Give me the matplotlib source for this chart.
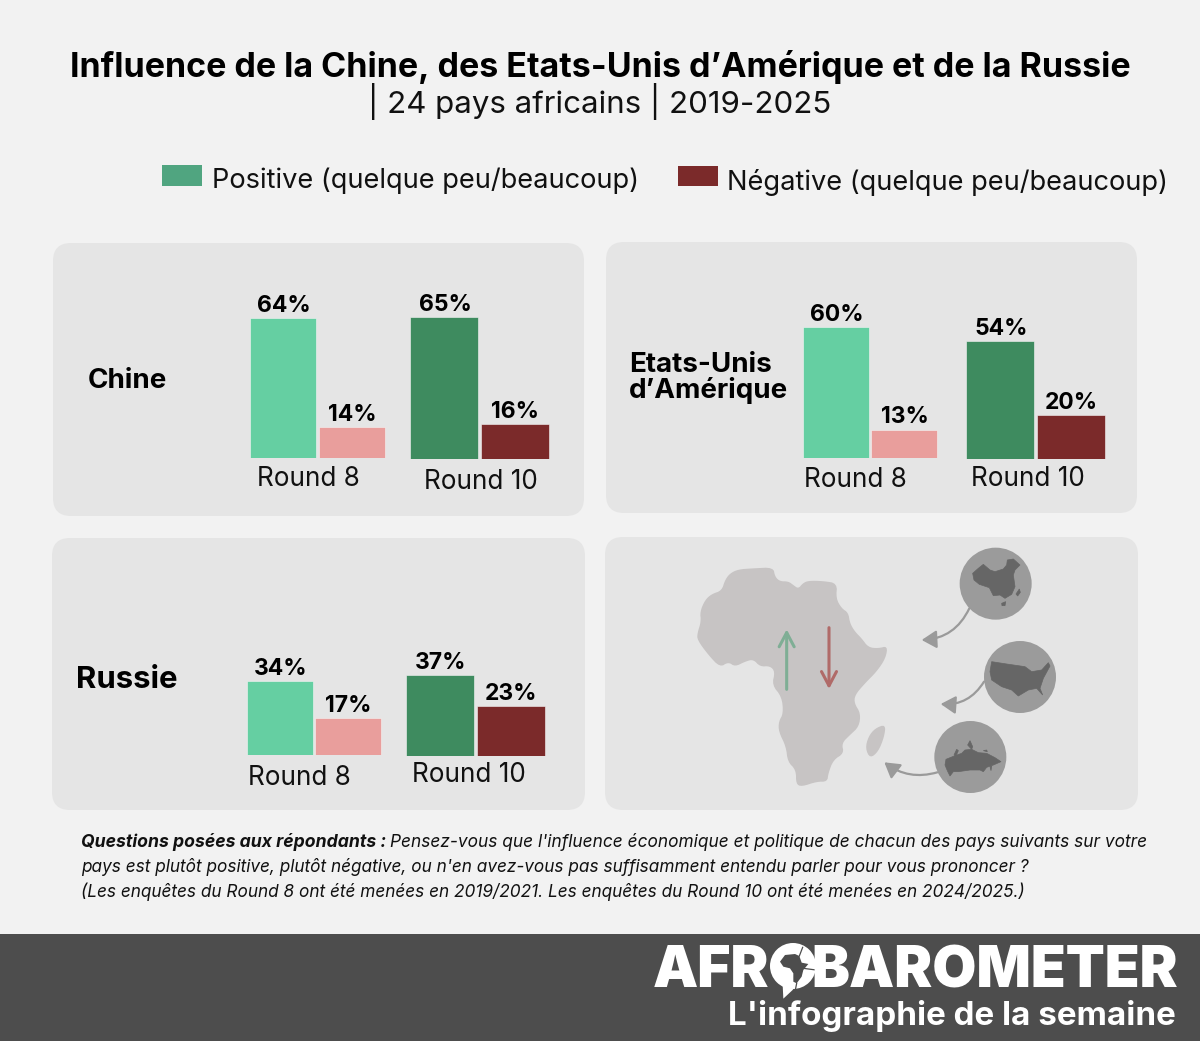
import matplotlib
matplotlib.use('Agg')
import matplotlib.pyplot as plt
from matplotlib.patches import FancyBboxPatch, FancyArrowPatch, Polygon, Circle, Rectangle

# Values (%)
rounds = ['Round 8', 'Round 10']
chine_pos = [64, 65]
chine_neg = [14, 16]
usa_pos = [60, 54]
usa_neg = [13, 20]
russie_pos = [34, 37]
russie_neg = [17, 23]

W, H = 1200, 1041
FONT = 'Inter'
plt.rcParams['font.family'] = [FONT, 'DejaVu Sans']

BG = '#f2f2f2'
PANEL = '#e5e5e5'
LIGHT_GREEN = '#65cfa2'
LIGHT_RED = '#e99e9c'
DARK_GREEN = '#3e8b5f'
DARK_RED = '#7b2a2a'
FOOTER = '#4d4d4d'
PX_PER_PCT = 2.185

fig = plt.figure(figsize=(W / 100, H / 100), dpi=100, facecolor=BG)
bg = fig.add_axes([0, 0, 1, 1])
bg.set_xlim(0, W)
bg.set_ylim(H, 0)
bg.axis('off')


def panel(x0, y0, x1, y1):
    bg.add_patch(FancyBboxPatch((x0 + 18, y0 + 18), x1 - x0 - 36, y1 - y0 - 36,
                                boxstyle='round,pad=18,rounding_size=18',
                                fc=PANEL, ec='none'))


def bar_group(x0, x1, base, pos, neg, c_pos, c_neg):
    # one small axes per round, sharing the same px-per-percent scale
    h = 100 * PX_PER_PCT
    ax = fig.add_axes([(x0 - 1) / W, 1 - base / H, (x1 - x0 + 2) / W, h / H])
    ax.patch.set_alpha(0)
    ax.axis('off')
    ax.set_xlim(-0.5, 1.5)
    ax.set_ylim(0, 100)
    bars = ax.bar([0, 1], [pos, neg], width=0.97, color=[c_pos, c_neg],
                  edgecolor='#f4f4f4', linewidth=0.4)
    for b, v in zip(bars, [pos, neg]):
        ax.annotate(f'{v}%', (b.get_x() + b.get_width() / 2, v), xytext=(0.5, 0.8),
                    textcoords='offset points', ha='center', va='bottom',
                    fontsize=16.5, fontweight='bold', color='black')


for p in [(53, 243, 584, 516), (606, 242, 1137, 513), (52, 538, 585, 810), (605, 537, 1138, 810)]:
    panel(*p)

# title
bg.text(600, 67, 'Influence de la Chine, des Etats-Unis d’Amérique et de la Russie',
        ha='center', va='center', fontsize=24.5, fontweight='bold', color='black')
bg.text(600, 101, '| 24 pays africains | 2019-2025', ha='center', va='center',
        fontsize=22.5, color='#111111')

# legend
bg.add_patch(Rectangle((162, 165), 40, 21, fc='#50a580', ec='none'))
bg.text(212, 181, 'Positive (quelque peu/beaucoup)', va='center', fontsize=19.6, color='#111111')
bg.add_patch(Rectangle((678, 166), 40, 20, fc=DARK_RED, ec='none'))
bg.text(727, 182, 'Négative (quelque peu/beaucoup)', va='center', fontsize=19.6, color='#111111')

# bars
bar_group(250, 385, 458, chine_pos[0], chine_neg[0], LIGHT_GREEN, LIGHT_RED)
bar_group(410, 549, 459, chine_pos[1], chine_neg[1], DARK_GREEN, DARK_RED)
bar_group(803, 937, 458, usa_pos[0], usa_neg[0], LIGHT_GREEN, LIGHT_RED)
bar_group(966, 1105, 459, usa_pos[1], usa_neg[1], DARK_GREEN, DARK_RED)
bar_group(247, 381, 755, russie_pos[0], russie_neg[0], LIGHT_GREEN, LIGHT_RED)
bar_group(406, 545, 756, russie_pos[1], russie_neg[1], DARK_GREEN, DARK_RED)

# round labels
for x, y, s in [(308, 479, rounds[0]), (481, 482, rounds[1]), (855, 480, rounds[0]),
                (1028, 479, rounds[1]), (299, 778, rounds[0]), (469, 775, rounds[1])]:
    bg.text(x, y, s, ha='center', va='center', fontsize=18.8, color='#111111')

# country names
bg.text(88, 381, 'Chine', va='center', fontsize=20, fontweight='bold', color='black')
bg.text(629, 365, 'Etats-Unis', va='center', fontsize=20, fontweight='bold', color='black')
bg.text(629, 391, 'd’Amérique', va='center', fontsize=20, fontweight='bold', color='black')
bg.text(76, 680, 'Russie', va='center', fontsize=22.4, fontweight='bold', color='black')


def crop(x0, y0, pts):
    return [(x0 + a / 3, y0 + b / 3) for a, b in pts]


def z(pts):
    return crop(620, 540, pts)


def smooth(pts, n=2):
    # corner cutting, only to round off the traced outlines
    for _ in range(n):
        out = []
        for i, (ax_, ay) in enumerate(pts):
            bx, by = pts[(i + 1) % len(pts)]
            out += [(0.75 * ax_ + 0.25 * bx, 0.75 * ay + 0.25 * by),
                    (0.25 * ax_ + 0.75 * bx, 0.25 * ay + 0.75 * by)]
        pts = out
    return pts


africa = [(232, 280), (243, 245), (240, 215), (255, 180), (275, 162), (305, 152), (315, 120), (330, 100),
          (355, 88), (400, 85), (460, 82), (465, 110), (480, 124), (505, 124), (520, 135), (535, 146),
          (548, 130), (565, 122), (610, 123), (652, 130), (648, 175), (665, 205), (685, 218), (690, 250),
          (705, 275), (725, 295), (745, 322), (775, 325), (803, 318), (797, 355), (770, 395), (735, 430),
          (705, 465), (703, 490), (722, 520), (717, 560), (690, 585), (665, 610), (672, 640), (640, 660),
          (625, 700), (622, 725), (590, 725), (545, 740), (528, 732), (528, 690), (503, 665), (498, 620),
          (476, 575), (476, 545), (490, 520), (485, 470), (456, 435), (465, 395), (450, 378), (420, 380),
          (400, 358), (375, 365), (345, 380), (325, 366), (300, 382), (265, 345), (232, 300)]
madagascar = [(797, 553), (793, 590), (775, 635), (750, 655), (736, 625), (745, 590), (765, 565)]
for shape in [africa, madagascar]:
    bg.add_patch(Polygon(z(smooth(shape)), closed=True, fc='#c7c4c4', ec='none'))

for a, b, col in [((500, 448), (500, 268), '#7fae95'), ((627, 263), (627, 447), '#b06a68')]:
    bg.add_patch(FancyArrowPatch(z([a])[0], z([b])[0], arrowstyle='->,head_length=3.4,head_width=1.8',
                                 color=col, lw=2.2, mutation_scale=3.0, shrinkA=0, shrinkB=0))

for c in [(1127, 131), (1200, 411), (1051, 651)]:
    bg.add_patch(Circle(z([c])[0], 36, fc='#9b9b9b', ec='none'))

china = [(68, 85), (85, 70), (100, 58), (120, 75), (135, 80), (160, 72), (170, 60), (172, 45), (190, 42),
         (210, 60), (195, 75), (190, 90), (195, 125), (185, 148), (165, 160), (150, 150), (130, 152),
         (118, 128), (88, 118), (72, 105)]
china_isl = [(198, 147), (208, 132), (211, 142), (203, 153)]
hainan = [(155, 175), (167, 170), (165, 182), (156, 182)]
for shape in [china, china_isl, hainan]:
    bg.add_patch(Polygon(crop(950, 545, shape), closed=True, fc='#666666', ec='#666666', lw=0.5))

usa_map = [(1115, 365), (1160, 372), (1215, 380), (1235, 395), (1265, 390), (1285, 368), (1290, 378),
           (1270, 415), (1260, 445), (1268, 465), (1250, 445), (1225, 450), (1195, 468), (1175, 450),
           (1145, 440), (1115, 420), (1110, 395)]
bg.add_patch(Polygon(z(usa_map), closed=True, fc='#666666', ec='#666666', lw=0.5))

russia_map = [(48, 118), (75, 107), (95, 100), (105, 90), (125, 88), (145, 98), (170, 100), (195, 113),
              (213, 125), (190, 135), (170, 142), (160, 155), (150, 150), (120, 150), (85, 155), (70, 155),
              (60, 168), (52, 152), (45, 135)]
russia_bits = [[(72, 105), (80, 88), (85, 92), (78, 108)], [(113, 75), (120, 62), (128, 80), (125, 88)],
               [(160, 92), (170, 90), (172, 95)], [(180, 140), (185, 138), (183, 152)]]
for shape in [russia_map] + russia_bits:
    bg.add_patch(Polygon(crop(930, 720, shape), closed=True, fc='#666666', ec='#666666', lw=0.5))

for a, b, rad in [((1048, 205), (905, 300), -0.3), ((1092, 425), (962, 492), -0.3), ((952, 697), (793, 667), -0.25)]:
    bg.add_patch(FancyArrowPatch(z([a])[0], z([b])[0], connectionstyle=f'arc3,rad={rad}',
                                 arrowstyle='-|>,head_length=3,head_width=1.8', color='#9a9a9a',
                                 lw=1.6, mutation_scale=3.0, shrinkA=0, shrinkB=0))

# note
note_kw = dict(va='center', style='italic', color='#111111')
bg.text(81, 842, 'Questions posées aux répondants :', fontweight='bold', fontsize=12.7, **note_kw)
bg.text(390, 842, "Pensez-vous que l'influence économique et politique de chacun des pays suivants sur votre",
        fontsize=12.45, **note_kw)
bg.text(81, 867, "pays est plutôt positive, plutôt négative, ou n'en avez-vous pas suffisamment entendu parler pour vous prononcer ?",
        fontsize=12.4, **note_kw)
bg.text(81, 892, '(Les enquêtes du Round 8 ont été menées en 2019/2021. Les enquêtes du Round 10 ont été menées en 2024/2025.)',
        fontsize=12.4, **note_kw)

# footer
bg.add_patch(Rectangle((0, 934), W, H - 934, fc=FOOTER, ec='none'))
bg.text(769, 987, 'AFR', ha='right', va='baseline', fontsize=41, fontweight='black', color='white')
bg.text(1178, 987, 'BAROMETER', ha='right', va='baseline', fontsize=41, fontweight='black', color='white')


def logo(pts):
    return crop(760, 940, pts)


bg.add_patch(Circle((793, 966), 23, fc='white', ec='none'))
bg.add_patch(Polygon(logo([(68, 135), (100, 148), (70, 176)]), closed=True, fc='white', ec='none'))
logo_africa = [(60, 65), (75, 45), (105, 42), (118, 48), (125, 68), (145, 72), (130, 90), (125, 110),
               (110, 130), (100, 125), (100, 100), (90, 85), (70, 80)]
bg.add_patch(Polygon(logo(logo_africa), closed=True, fc=FOOTER, ec='none'))
for a, b in [((118, 48), (128, 22)), ((130, 85), (168, 90)), ((110, 130), (105, 155))]:
    (xa, ya), (xb, yb) = logo([a, b])
    bg.plot([xa, xb], [ya, yb], color=FOOTER, lw=0.9)
bg.text(1176, 1015.5, "L'infographie de la semaine", ha='right', va='center', fontsize=23.9,
        fontweight='bold', color='white')

fig.savefig('out.png', dpi=100, facecolor=BG)
